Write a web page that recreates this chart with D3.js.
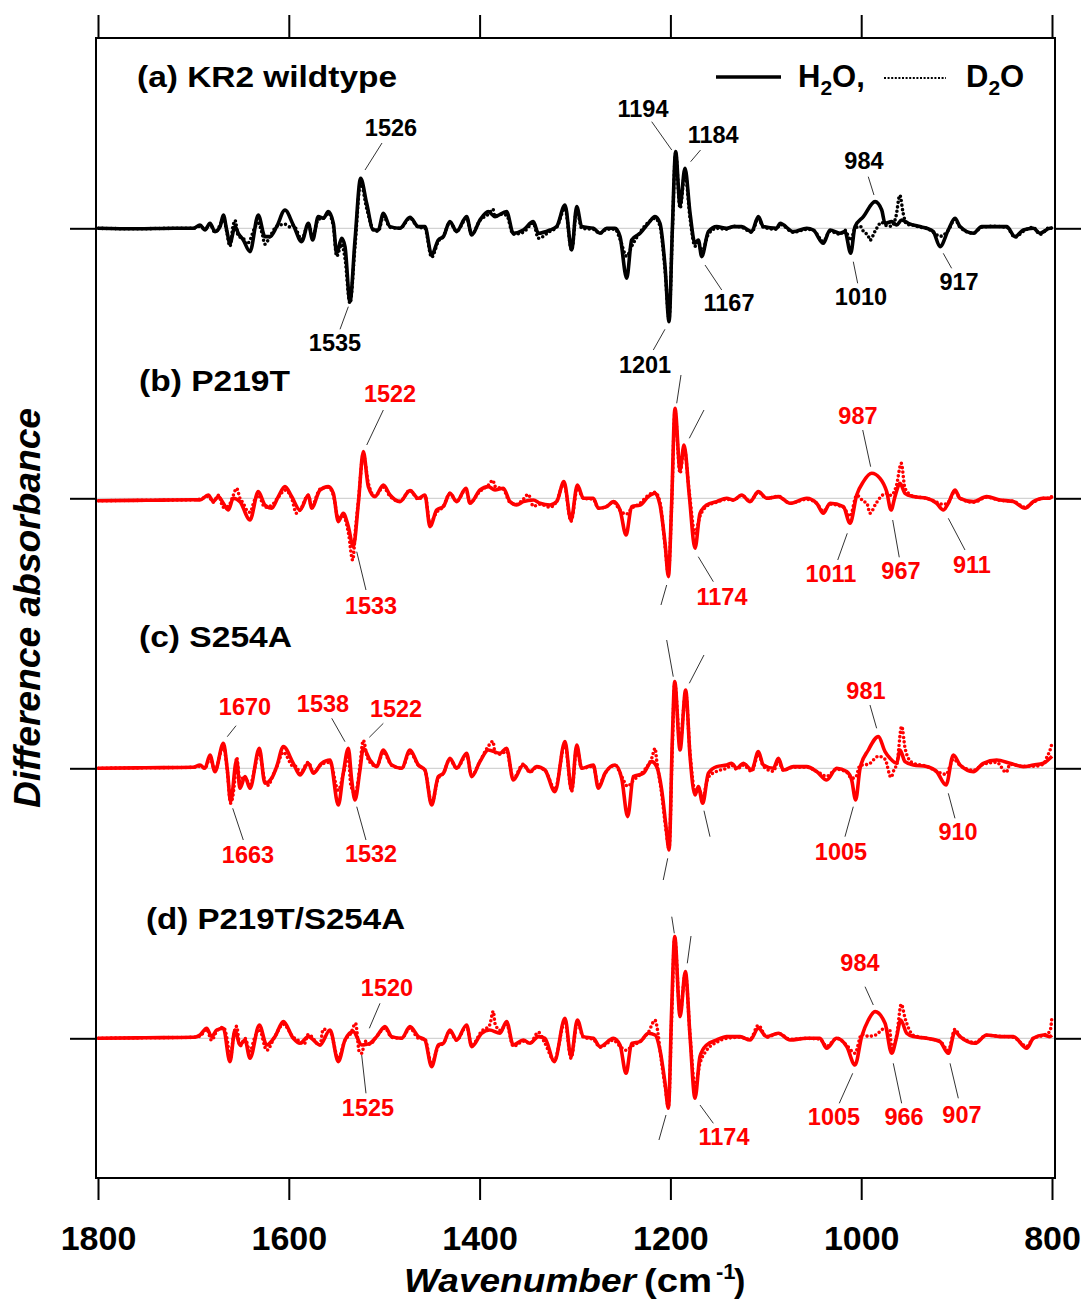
<!DOCTYPE html>
<html><head><meta charset="utf-8">
<script src="https://cdn.jsdelivr.net/npm/d3@7"></script>
<style>body{margin:0;background:#fff}svg{display:block}text{font-family:"Liberation Sans",Arial,sans-serif}</style>
</head><body><svg id="c" width="1085" height="1307"></svg>
<script>
// ---------- data ----------
const xTicks = [1800,1600,1400,1200,1000,800];
const panelNames = ["(a) KR2 wildtype","(b) P219T","(c) S254A","(d) P219T/S254A"];
const seriesNames = ["H2O","D2O"];

const aH2O = [[1800,0],[1760,-0.05],[1720,0],[1700,0],[1693.1,0.33],[1687.9,-0.17],[1682.6,0.5],[1677.4,-0.33],[1672.1,0.17],[1668.6,1.33],[1665.1,-0.17],[1661.7,-1.5],[1656.4,0.17],[1652.9,-0.5],[1647.7,-1.17],[1640.7,-2.33],[1632.0,1.33],[1625.0,-0.83],[1619.7,-0.83],[1612.7,0.17],[1604.0,1.83],[1595.3,0.33],[1586.5,-1.33],[1579.5,0.5],[1575.0,-1.17],[1569.1,1.17],[1563.8,1.0],[1558.6,1.67],[1553.3,0.5],[1549.8,-2.5],[1544.6,-1.0],[1541.1,-1.83],[1535.9,-7.33],[1530.6,-1.17],[1524.7,5.0],[1518.4,2.5],[1511.4,-0.17],[1506.2,-0.17],[1500.9,1.5],[1493.9,0.17],[1483.5,0],[1473.0,1.1],[1464.2,0.17],[1457.3,0.17],[1450.3,-2.67],[1443.3,-1.17],[1438.0,-0.83],[1431.1,0.67],[1424.1,-0.33],[1413.6,1.17],[1408.3,-0.67],[1399.6,0.83],[1390.9,1.67],[1383.9,1.17],[1371.7,1.67],[1364.7,-0.5],[1354.2,-0.17],[1343.7,0.67],[1338.4,-0.5],[1326.2,-0.17],[1319.2,0.17],[1310.5,2.33],[1303.5,-2.17],[1298.2,2.17],[1293.0,0.17],[1280.8,0],[1273.8,-0.5],[1266.8,0],[1258.0,0],[1252.8,-0.83],[1245.8,-5.0],[1240.6,-1.17],[1231.8,-0.5],[1223.1,0.5],[1216.1,1.17],[1210.9,0.5],[1205.6,-3.83],[1201.4,-9.33],[1198.0,-0.17],[1194.5,7.67],[1189.9,2.33],[1184.7,6.0],[1179.4,1.5],[1174.2,-1.5],[1170.7,-1.17],[1167.2,-2.83],[1160.2,-0.33],[1151.5,0.17],[1141.0,0],[1134.0,0.17],[1125.3,0.17],[1114.8,-0.33],[1107.8,1.17],[1102.6,0.17],[1088.6,0],[1085.1,0.5],[1071.1,-0.33],[1057.1,0],[1050.2,-0.17],[1039.7,-1.5],[1032.7,-0.17],[1022.2,-0.5],[1017.0,-0.33],[1011.0,-2.5],[1006.5,0.17],[997.7,1.17],[985.5,2.67],[978.5,1.83],[975.0,0.5],[968.1,0.67],[962.8,0.33],[957.6,0.83],[950.6,0.5],[938.4,0.17],[931.4,0],[924.4,-0.33],[917.4,-1.83],[908.7,-0.17],[901.7,1.0],[896.4,0.17],[882.4,-0.5],[873.7,0.17],[861.5,0.17],[847.5,0.17],[838.8,-0.83],[830.0,-0.17],[819.6,0],[812.6,-0.5],[802.1,0],[800,0]];
const aD2O = [[1800,0],[1760,-0.05],[1720,0],[1700,0],[1693.1,0.2],[1687.9,-0.1],[1682.6,0.4],[1677.4,-0.4],[1672.1,0.3],[1668.6,1.0],[1665.1,-0.3],[1661.7,-1.8],[1658.5,0.2],[1656.4,0.8],[1652.9,-0.8],[1647.7,-1.0],[1644,-1.6],[1640.7,-1.2],[1636,0.0],[1632.0,0.5],[1628,-0.5],[1625.0,-1.6],[1619.7,-0.8],[1612.7,0.2],[1604.0,0.4],[1598,0.1],[1595.3,0.3],[1586.5,-1.1],[1579.5,0.4],[1575.0,-0.8],[1569.1,0.9],[1563.8,1.0],[1558.6,1.5],[1553.3,0.2],[1549.8,-2.8],[1544.6,-1.6],[1541.1,-3.0],[1535.9,-7.5],[1530.6,-1.8],[1524.7,4.6],[1518.4,2.0],[1511.4,-0.1],[1506.2,-0.3],[1500.9,1.2],[1493.9,0.1],[1483.5,0.0],[1473.0,1.0],[1464.2,0.1],[1457.3,0.0],[1450.3,-2.9],[1443.3,-1.3],[1438.0,-0.8],[1431.1,0.6],[1424.1,-0.3],[1413.6,1.0],[1408.3,-0.6],[1399.6,0.8],[1390.9,1.4],[1386,1.9],[1383.9,1.2],[1378,1.4],[1371.7,1.3],[1364.7,-0.6],[1354.2,-0.4],[1343.7,0.5],[1338.4,-1.0],[1326.2,-0.3],[1319.2,0.1],[1310.5,2.0],[1303.5,-2.2],[1298.2,1.9],[1293.0,0.0],[1280.8,-0.1],[1273.8,-0.5],[1266.8,-0.1],[1258.0,-0.1],[1252.8,-1.1],[1245.8,-2.8],[1240.6,-1.8],[1231.8,-0.4],[1223.1,0.6],[1216.1,1.0],[1210.9,0.2],[1205.6,-4.2],[1201.4,-9.0],[1198.0,-0.5],[1194.5,7.5],[1189.9,2.0],[1184.7,5.6],[1179.4,1.0],[1174.2,-1.8],[1170.7,-1.3],[1167.2,-2.4],[1160.2,-0.6],[1151.5,0.0],[1141.0,-0.1],[1134.0,0.2],[1125.3,0.1],[1114.8,-0.4],[1107.8,1.0],[1102.6,0.1],[1088.6,-0.1],[1085.1,0.4],[1071.1,-0.4],[1057.1,-0.1],[1050.2,-0.2],[1039.7,-1.3],[1032.7,-0.3],[1022.2,-0.6],[1017.0,-0.2],[1011.0,-1.2],[1006.5,0.0],[1001,0.2],[997.7,-0.3],[992.5,-0.8],[990.8,-1.2],[985.5,-0.3],[978.5,0.6],[975.0,0.3],[968.1,0.2],[963.5,1.2],[959.5,3.3],[956,1.5],[952.3,0.4],[945.3,0.3],[938.4,0.1],[931.4,0.0],[924.4,-0.4],[917.4,-0.8],[908.7,-0.2],[901.7,0.9],[896.4,0.1],[882.4,-0.5],[873.7,0.1],[861.5,0.2],[847.5,0.1],[838.8,-0.9],[830.0,-0.3],[819.6,0.1],[812.6,-0.6],[802.1,0.1],[800,0]];

const bH2O = [[1800,-0.25],[1750,-0.2],[1700,-0.15],[1693.1,-0.17],[1684.4,0.33],[1679.1,-0.33],[1673.9,0.17],[1668.6,-0.5],[1663.4,-1.17],[1658.2,0],[1651.2,-0.33],[1640.7,-2.17],[1632.0,0.67],[1625.0,-0.67],[1618.0,-1.0],[1611.0,0.17],[1604.0,1.17],[1597.0,0.17],[1588.3,-1.17],[1579.5,0.33],[1576.1,-1.0],[1567.3,0.83],[1558.6,1.17],[1553.3,0.5],[1548.1,-2.33],[1542.9,-1.5],[1537.6,-2.83],[1532.4,-4.83],[1527.1,-0.5],[1521.9,4.67],[1516.6,1.17],[1509.7,0.17],[1500.9,1.33],[1493.9,0.33],[1483.5,-0.33],[1473.0,0.77],[1464.2,0],[1457.3,0.33],[1452.0,-2.83],[1445.0,-1.17],[1438.0,-0.83],[1431.1,0.5],[1424.1,-0.33],[1414.3,1.0],[1410.1,-0.5],[1399.6,0.83],[1390.9,1.17],[1383.9,0.83],[1375.1,1.0],[1368.2,-0.33],[1361.2,-0.67],[1354.2,-0.33],[1343.7,-0.17],[1336.7,-0.5],[1326.2,-0.67],[1319.2,-0.33],[1311.6,1.67],[1304.2,-2.17],[1297.5,1.33],[1291.2,0],[1280.8,0],[1275.5,-1.0],[1266.8,-0.83],[1259.8,-0.33],[1252.8,-1.17],[1246.5,-3.67],[1240.6,-0.83],[1231.8,-0.67],[1223.1,0.17],[1216.1,0.5],[1210.9,-0.67],[1205.6,-4.5],[1202.1,-7.83],[1198.7,-0.5],[1195.2,9.0],[1189.9,2.83],[1185.7,5.33],[1180.1,0.17],[1174.2,-5.0],[1169.0,-1.5],[1162.0,-0.67],[1151.5,-0.33],[1141.0,0],[1134.0,-0.17],[1125.3,0.33],[1116.5,-0.33],[1107.8,0.67],[1099.1,0],[1086.8,0.17],[1074.6,-0.5],[1057.1,0],[1046.7,-0.5],[1039.7,-1.5],[1032.7,-0.5],[1018.7,-0.83],[1011.7,-2.5],[1004.7,0.33],[997.7,1.67],[989.0,2.5],[980.3,2.0],[973.3,0.67],[968.7,-1.17],[964.6,0.17],[959.3,1.5],[954.1,0.5],[945.3,0.17],[931.4,0],[920.9,-0.5],[913.9,-1.17],[908.7,-0.5],[901.7,0.83],[896.4,0],[882.4,-0.33],[868.5,0.17],[854.5,-0.17],[840.5,-0.33],[828.3,-1.0],[819.6,-0.33],[809.1,0],[802.1,0],[800,0.2]];
const bD2O = [[1800,-0.25],[1750,-0.2],[1700,-0.15],[1693.1,-0.1],[1684.4,0.2],[1679.1,-0.4],[1673.9,0.3],[1668.6,-0.9],[1663.4,-0.8],[1658.2,0.3],[1654.7,1.0],[1651.2,0.0],[1647.7,-0.5],[1644,-1.2],[1640.7,-1.4],[1636,-0.2],[1632.0,0.3],[1625.0,-0.9],[1618.0,-0.7],[1611.0,0.1],[1604.0,0.8],[1597.0,0.0],[1592,-1.5],[1588.3,-1.2],[1579.5,0.3],[1576.1,-0.8],[1567.3,0.9],[1558.6,1.1],[1553.3,0.3],[1548.1,-2.0],[1542.9,-1.8],[1537.6,-3.4],[1533,-6.2],[1530,-3.0],[1527.1,-0.3],[1521.9,4.3],[1516.6,1.5],[1509.7,0.2],[1500.9,1.1],[1493.9,0.2],[1483.5,-0.3],[1473.0,0.8],[1464.2,-0.1],[1457.3,0.3],[1452.0,-2.5],[1445.0,-1.4],[1438.0,-0.8],[1431.1,0.5],[1424.1,-0.3],[1414.3,0.9],[1410.1,-0.4],[1399.6,0.7],[1390.9,1.3],[1386,1.8],[1383.9,1.2],[1375.1,0.9],[1368.2,-0.4],[1361.2,-0.6],[1354.2,-0.1],[1349,0.4],[1343.7,-0.8],[1336.7,-0.6],[1326.2,-0.9],[1319.2,-0.3],[1311.6,1.5],[1304.2,-2.3],[1297.5,1.0],[1291.2,0.0],[1280.8,-0.1],[1275.5,-1.0],[1266.8,-0.8],[1259.8,-0.4],[1252.8,-1.2],[1246.5,-1.6],[1240.6,-1.0],[1231.8,-0.5],[1223.1,0.3],[1216.1,0.6],[1210.9,-0.4],[1205.6,-4.8],[1202.1,-7.5],[1198.7,-0.8],[1195.2,8.6],[1189.9,2.5],[1185.7,5.0],[1180.1,0.5],[1174.2,-3.5],[1169.0,-1.8],[1162.0,-0.8],[1151.5,-0.4],[1141.0,-0.1],[1134.0,-0.2],[1125.3,0.3],[1116.5,-0.3],[1107.8,0.6],[1099.1,0.0],[1086.8,0.2],[1074.6,-0.5],[1057.1,-0.1],[1046.7,-0.5],[1039.7,-1.3],[1032.7,-0.6],[1018.7,-0.9],[1011.7,-1.8],[1004.7,0.3],[997.7,-0.3],[994,-0.5],[990.8,-1.5],[985,-0.6],[979,0.2],[973.3,0.5],[968.7,0.3],[963,1.3],[958,3.5],[954.1,1.0],[945.3,0.2],[931.4,0.0],[920.9,-0.4],[913.9,-0.6],[908.7,-0.4],[901.7,0.7],[896.4,0.0],[882.4,-0.4],[868.5,0.1],[854.5,-0.2],[840.5,-0.3],[828.3,-0.9],[819.6,-0.4],[809.1,0.0],[802.1,0.0],[800,0.2]];

const cH2O = [[1800,0],[1750,0.05],[1700,0.1],[1693.1,0.33],[1687.9,0],[1682.6,1.33],[1677.4,-0.33],[1668.6,2.5],[1664.4,-0.17],[1661.0,-3.33],[1654.7,0.83],[1651.2,-2.0],[1645.9,-0.83],[1640.7,-2.0],[1630.9,2.0],[1625.0,-1.5],[1618.0,-1.0],[1612.7,0.17],[1605.7,2.17],[1595.3,0.5],[1588.3,-0.67],[1579.5,0.5],[1574.3,-0.5],[1565.6,0.5],[1556.8,0.83],[1548.1,-3.67],[1542.9,-0.5],[1537.6,2.0],[1534.1,-1.17],[1530.6,-3.17],[1525.4,-0.17],[1521.9,2.0],[1514.9,0.83],[1507.9,0.17],[1500.9,1.83],[1492.2,0.33],[1481.7,0],[1473.0,1.83],[1464.2,0.33],[1457.3,-0.17],[1450.3,-3.67],[1443.3,-0.83],[1438.0,-0.5],[1431.1,1.0],[1424.1,0],[1413.6,1.5],[1408.3,-0.83],[1399.6,0.67],[1390.9,1.83],[1378.6,1.5],[1371.7,2.0],[1364.7,-1.17],[1354.2,0.33],[1347.2,-0.33],[1340.2,0.17],[1331.5,-0.17],[1321.0,-2.33],[1310.5,2.67],[1303.5,-2.17],[1298.2,2.33],[1293.0,0],[1280.8,0.33],[1275.5,-2.0],[1268.5,-0.5],[1258.0,0.33],[1251.1,-1.0],[1244.8,-4.83],[1238.8,-0.83],[1228.4,-0.5],[1219.6,0.67],[1214.4,0.17],[1209.1,-2.17],[1204.6,-5.83],[1201.4,-8.17],[1198.0,2.83],[1195.5,8.67],[1189.9,1.83],[1184.0,7.83],[1179.4,1.17],[1174.2,-2.67],[1170.7,-1.83],[1166.2,-3.5],[1160.2,-0.5],[1151.5,0.17],[1141.0,0.33],[1135.8,0.5],[1130.5,0],[1123.5,0.5],[1114.8,-0.17],[1107.8,1.67],[1102.6,0.33],[1092.1,0],[1086.8,1.0],[1081.6,-0.17],[1071.1,0.17],[1057.1,0.17],[1046.7,-0.33],[1036.2,-1.17],[1025.7,0],[1015.2,-0.33],[1010.0,-1.17],[1005.8,-3.17],[1001.2,0],[992.5,1.83],[982.0,3.17],[975.0,1.67],[969.8,1.0],[962.8,0.5],[959.3,1.83],[954.1,0.67],[945.3,0.33],[931.4,0.17],[920.9,-0.33],[911.1,-1.67],[903.4,1.33],[896.4,0.33],[882.4,-0.33],[872.0,0.5],[858.0,0.83],[844.0,0.5],[830.0,0.17],[819.6,0.33],[809.1,0.5],[802.1,1.0],[800,1.2]];
const cD2O = [[1800,0],[1750,0.05],[1700,0.1],[1693.1,0.2],[1687.9,0.0],[1682.6,1.0],[1677.4,-0.2],[1668.6,2.2],[1664.4,-0.3],[1661.0,-3.5],[1656,-0.5],[1654.7,1.1],[1651.2,-1.3],[1647,-0.8],[1640.7,-1.6],[1630.9,1.5],[1625.0,-1.3],[1621,-1.7],[1618.0,-1.0],[1612.7,0.1],[1605.7,1.6],[1595.3,0.2],[1592,0.2],[1588.3,-0.5],[1579.5,0.6],[1574.3,-0.4],[1565.6,0.4],[1556.8,0.6],[1548.1,-2.2],[1542.9,-0.6],[1537.6,1.3],[1535,-1.7],[1530.6,-2.5],[1527,-1.0],[1525.4,0.3],[1521.9,2.8],[1518,1.2],[1514.9,0.6],[1507.9,0.2],[1500.9,1.6],[1492.2,0.3],[1481.7,0.0],[1473.0,1.6],[1464.2,0.3],[1457.3,-0.2],[1450.3,-3.5],[1443.3,-1.0],[1438.0,-0.5],[1431.1,0.9],[1424.1,0.0],[1413.6,1.3],[1408.3,-0.7],[1399.6,0.7],[1390.9,2.2],[1386,2.7],[1383.9,1.6],[1378.6,1.4],[1371.7,1.7],[1364.7,-1.0],[1354.2,0.4],[1347.2,-0.4],[1340.2,0.1],[1331.5,-0.2],[1321.0,-2.1],[1310.5,2.4],[1303.5,-2.3],[1298.2,2.1],[1293.0,0.0],[1280.8,0.2],[1275.5,-1.8],[1268.5,-0.5],[1258.0,0.3],[1251.1,-0.8],[1244.8,-1.8],[1238.8,-1.2],[1228.4,-0.3],[1219.6,1.0],[1216,2.0],[1214.4,0.8],[1209.1,-2.6],[1204.6,-6.2],[1201.4,-8.0],[1198.0,2.0],[1195.5,8.5],[1189.9,2.5],[1184.0,7.5],[1179.4,1.5],[1174.2,-2.2],[1170.7,-2.0],[1166.2,-2.8],[1160.2,-0.9],[1151.5,-0.3],[1141.0,0.0],[1135.8,0.3],[1130.5,-0.1],[1123.5,0.3],[1114.8,-0.3],[1107.8,1.4],[1102.6,0.2],[1092.1,-0.3],[1086.8,0.7],[1081.6,-0.2],[1071.1,0.1],[1057.1,0.1],[1046.7,-0.3],[1036.2,-0.8],[1025.7,-0.1],[1015.2,-0.4],[1010.0,-1.0],[1005.8,-0.9],[1001.2,0.3],[992.5,0.4],[982.0,1.2],[975,0.9],[968.8,-0.9],[965,0.0],[962.8,0.3],[957.6,4.2],[954,2.0],[950.6,1.0],[945.3,0.5],[931.4,0.2],[920.9,-0.3],[911.1,-0.6],[903.4,0.9],[896.4,0.3],[882.4,-0.2],[872.0,0.4],[858.0,0.6],[848,-0.4],[844.0,0.4],[830.0,0.2],[819.6,0.2],[809.1,0.4],[805,1.2],[802.1,1.8],[800,2.5]];

const dH2O = [[1800,0],[1750,0.05],[1700,0.1],[1693.1,0.33],[1686.1,1.0],[1680.9,0.17],[1675.6,0.83],[1668.6,1.0],[1661.7,-2.33],[1656.4,0.83],[1651.2,-0.67],[1645.9,-0.17],[1640.7,-2.0],[1630.9,1.33],[1623.2,-0.67],[1614.5,0.17],[1605.7,1.67],[1595.3,0],[1588.3,-0.5],[1579.5,0.17],[1567.3,-0.67],[1556.8,0.83],[1548.1,-2.33],[1541.1,-0.17],[1532.4,0.67],[1523.6,-0.67],[1514.9,-0.5],[1507.9,0.17],[1499.2,1.17],[1492.2,0.17],[1481.7,0],[1473.0,1.17],[1464.2,0.17],[1457.3,-0.17],[1450.3,-2.83],[1443.3,-0.67],[1438.0,-0.5],[1431.1,0.83],[1424.1,-0.17],[1413.6,1.33],[1408.3,-0.83],[1397.9,0.5],[1389.6,0.83],[1378.6,0.5],[1371.7,1.67],[1364.7,-0.67],[1354.2,-0.17],[1347.2,-0.5],[1338.4,0.17],[1331.5,0],[1321.7,-2.33],[1310.5,2.0],[1304.2,-1.83],[1297.5,1.83],[1291.2,0.17],[1280.8,0],[1273.8,-0.83],[1259.8,0],[1252.8,-0.67],[1246.5,-3.5],[1240.6,-0.5],[1231.8,-0.33],[1223.1,0.5],[1216.1,0.33],[1210.9,-1.17],[1205.6,-4.5],[1202.1,-7.0],[1198.7,2.83],[1195.5,10.17],[1189.9,2.17],[1184.3,6.67],[1179.4,0.17],[1174.2,-6.0],[1169.0,-1.83],[1162.0,-0.67],[1151.5,-0.17],[1141.0,0.17],[1127.0,0.17],[1116.5,-0.17],[1107.8,1.0],[1099.1,0.17],[1086.8,0.5],[1074.6,-0.17],[1057.1,0],[1043.2,0],[1036.2,-1.0],[1025.7,0],[1015.2,-0.83],[1006.5,-2.67],[999.5,0.17],[992.5,1.83],[985.5,2.67],[975.0,1.5],[968.1,-1.5],[962.8,0.17],[958.6,1.83],[952.3,0.5],[945.3,0.17],[931.4,0],[917.4,-0.33],[908.7,-1.5],[901.7,0.67],[896.4,0.17],[880.7,-0.5],[868.5,0.33],[854.5,0.17],[840.5,0.17],[826.5,-1.0],[819.6,0],[809.1,0.33],[802.1,0.17],[800,0.3]];
const dD2O = [[1800,0],[1750,0.05],[1700,0.1],[1693.1,0.2],[1686.1,0.9],[1680.9,-0.2],[1675.6,0.7],[1668.6,1.1],[1664,-0.5],[1661.7,-2.2],[1658,0.2],[1654.7,1.2],[1651.2,-0.8],[1645.9,0.0],[1640.7,-1.3],[1636,0.0],[1630.9,0.9],[1623.2,-1.2],[1614.5,0.2],[1605.7,1.4],[1595.3,0.1],[1588.3,-0.3],[1584,-0.6],[1579.5,0.4],[1567.3,-0.7],[1564,0.9],[1556.8,0.7],[1548.1,-2.0],[1541.1,-0.2],[1535,0.5],[1530,1.5],[1526,-1.4],[1523.6,-1.5],[1520,-0.3],[1514.9,-0.6],[1507.9,0.2],[1499.2,1.0],[1492.2,0.1],[1481.7,0.0],[1473.0,1.0],[1464.2,0.0],[1457.3,-0.1],[1450.3,-2.6],[1443.3,-0.8],[1438.0,-0.5],[1431.1,0.7],[1424.1,-0.2],[1413.6,1.2],[1408.3,-0.7],[1397.9,0.7],[1389.6,1.3],[1385.6,2.7],[1383.9,1.5],[1378.6,0.8],[1371.7,1.4],[1364.7,-0.8],[1354.2,-0.3],[1347.2,-0.5],[1338.4,0.6],[1331.5,-0.5],[1321.7,-2.2],[1310.5,1.7],[1304.2,-2.0],[1297.5,1.6],[1291.2,0.1],[1280.8,-0.1],[1273.8,-0.9],[1259.8,-0.2],[1252.8,-0.8],[1246.5,-1.2],[1240.6,-0.8],[1231.8,-0.3],[1223.1,0.6],[1216.1,1.8],[1213,0.5],[1210.9,-1.2],[1205.6,-4.8],[1202.1,-6.8],[1198.7,2.0],[1195.5,10.0],[1189.9,2.5],[1184.3,6.5],[1179.4,0.3],[1174.2,-4.8],[1169.0,-2.5],[1162.0,-1.2],[1151.5,-0.4],[1141.0,0.0],[1127.0,0.1],[1116.5,-0.1],[1107.8,1.3],[1099.1,0.1],[1086.8,0.5],[1074.6,-0.1],[1057.1,0.0],[1043.2,-0.1],[1036.2,-0.8],[1025.7,0.0],[1015.2,-0.7],[1006.5,-1.5],[999.5,0.4],[992.5,0.2],[985.5,0.3],[975.0,1.0],[970,0.8],[968.1,-1.0],[962.8,0.3],[958,3.4],[954,2.0],[952.3,1.5],[945.3,0.3],[931.4,0.0],[917.4,-0.3],[908.7,-1.2],[901.7,0.9],[896.4,0.2],[880.7,-0.4],[868.5,0.3],[854.5,0.2],[840.5,0.1],[826.5,-0.8],[819.6,0.0],[809.1,0.3],[802.1,0.7],[800,2.2]];

// peak annotations: [label, label wavenumber, label value, leader start wn, value, leader end wn, value]
const aAnn = [["1526",1492.9,10.03,1502.3,8.53,1520.1,5.83],["1535",1551.6,-11.47,1537.6,-7.84,1546.3,-10.1],["1194",1228.7,11.93,1219.6,10.66,1198.6,7.83],["1184",1155.2,9.33,1168.4,7.83,1178.8,6.66],["984",997.1,6.73,992.6,5.16,986.6,3.33],["1167",1138.6,-7.47,1163.7,-3.67,1146.2,-6.17],["1010",1000.2,-6.87,1008.3,-3.34,1003.7,-5.5],["917",897.5,-5.37,914.0,-2.5,905.2,-4.0],["1201",1226.6,-13.67,1205.7,-10.1,1217.9,-12.17]];
const bAnn = [["1522",1493.9,10.43,1500.9,8.83,1518.3,5.33],["1533",1513.8,-10.77,1528.8,-5.34,1519.1,-9.17],["",0,0,1188.9,12.33,1193.4,9.5],["",0,0,1164.8,8.83,1180.2,6.0],["",0,0,1203.9,-8.67,1209.9,-10.67],["1174",1145.9,-9.87,1170.8,-5.84,1155.0,-8.34],["987",1003.4,8.23,998.4,6.83,990.1,3.16],["1011",1031.7,-7.57,1014.6,-3.5,1024.6,-6.17],["967",958.3,-7.27,967.0,-2.17,960.1,-5.9],["911",883.9,-6.67,908.7,-2.0,891.2,-5.17]];
const cAnn = [["1670",1645.9,6.13,1655.3,4.26,1664.5,3.16],["1663",1642.8,-8.67,1658.8,-4.0,1647.7,-7.17],["1538",1564.2,6.43,1555.0,5.0,1541.1,2.66],["1522",1487.6,5.93,1500.9,4.5,1515.6,3.1],["1532",1513.8,-8.57,1528.8,-3.84,1519.1,-7.17],["",0,0,1203.9,12.83,1197.0,9.16],["",0,0,1164.8,11.33,1180.2,8.5],["",0,0,1202.8,-9.0,1207.5,-11.17],["",0,0,1164.8,-4.24,1158.5,-6.84],["981",995.0,7.73,990.8,6.33,983.8,4.0],["1005",1021.2,-8.37,1008.3,-3.84,1017.0,-6.84],["910",898.5,-6.37,908.7,-2.5,901.7,-5.0]];
const dAnn = [["1520",1497.1,5.03,1504.4,3.5,1515.6,1.0],["1525",1517.0,-6.97,1523.6,-1.67,1519.1,-5.5],["",0,0,1198.6,12.16,1195.9,10.5],["",0,0,1178.4,10.23,1182.3,7.5],["",0,0,1204.6,-7.67,1212.0,-10.17],["1174",1143.8,-9.87,1169.0,-6.67,1155.0,-8.5],["984",1001.3,7.53,996.0,5.16,987.3,3.33],["1005",1028.5,-7.87,1008.9,-3.5,1023.0,-6.5],["966",955.1,-7.87,966.4,-2.5,957.6,-6.5],["907",894.4,-7.67,906.9,-2.5,898.2,-6.0]];

// ---------- drawing ----------
const svg = d3.select("#c");
const box = {l:96, r:1055, t:38, b:1178};
const x = d3.scaleLinear().domain([1800,800]).range([98,1052]);
const panels = [
  {name:panelNames[0], h:aH2O, d:aD2O, ann:aAnn, color:"#000000", zero:228.3, tx:137, ty:87, tl:260},
  {name:panelNames[1], h:bH2O, d:bD2O, ann:bAnn, color:"#ff0000", zero:498.3, tx:139, ty:391, tl:151},
  {name:panelNames[2], h:cH2O, d:cD2O, ann:cAnn, color:"#ff0000", zero:768.3, tx:139, ty:647, tl:153},
  {name:panelNames[3], h:dH2O, d:dD2O, ann:dAnn, color:"#ff0000", zero:1038.3, tx:146, ty:929, tl:259}
];

panels.forEach((p,i)=>{
  const y = d3.scaleLinear().domain([-13.5,13.5]).range([p.zero+135, p.zero-135]);
  const g = svg.append("g");
  g.append("line").attr("x1",box.l).attr("x2",box.r).attr("y1",y(0)).attr("y2",y(0))
    .attr("stroke","#c8c8c8").attr("stroke-width",1);
  const yl = d3.axisLeft(y).tickValues([0]).tickSize(26).tickFormat("");
  const yr = d3.axisRight(y).tickValues([0]).tickSize(26).tickFormat("");
  g.append("g").attr("transform",`translate(${box.l},0)`).call(yl)
    .call(s=>s.select(".domain").remove()).selectAll("line").attr("stroke","#000").attr("stroke-width",2);
  g.append("g").attr("transform",`translate(${box.r},0)`).call(yr)
    .call(s=>s.select(".domain").remove()).selectAll("line").attr("stroke","#000").attr("stroke-width",2);

  const line = d3.line().x(d=>x(d[0])).y(d=>y(d[1])).curve(d3.curveMonotoneX);
  g.append("path").datum(p.h).attr("d",line).attr("fill","none").attr("stroke",p.color)
    .attr("stroke-width",3.6).attr("stroke-linejoin","round");
  g.append("path").datum(p.d).attr("d",line).attr("fill","none").attr("stroke",p.color)
    .attr("stroke-width",3.6).attr("stroke-linecap","round").attr("stroke-dasharray","0 4.4");

  p.ann.forEach(a=>{
    g.append("line").attr("x1",x(a[3])).attr("y1",y(a[4])).attr("x2",x(a[5])).attr("y2",y(a[6]))
      .attr("stroke","#333").attr("stroke-width",1);
    if(a[0]){
      const col = (i===0) ? "#000" : "#ff0000";
      g.append("text").attr("x",x(a[1])).attr("y",y(a[2])).attr("dy","0.36em")
        .attr("text-anchor","middle").attr("font-size",23.5).attr("font-weight","bold")
        .attr("fill",col).text(a[0]);
    }
  });
  svg.append("text").attr("x",p.tx).attr("y",p.ty).attr("font-size",30).attr("font-weight","bold")
    .attr("fill","#000").attr("textLength",p.tl).attr("lengthAdjust","spacingAndGlyphs").text(p.name);
});

// frame
svg.append("rect").attr("x",box.l).attr("y",box.t).attr("width",box.r-box.l).attr("height",box.b-box.t)
  .attr("fill","none").attr("stroke","#000").attr("stroke-width",2);

// x axes
const xb = d3.axisBottom(x).tickValues(xTicks).tickSize(22).tickPadding(26).tickFormat(d3.format("d"));
const gb = svg.append("g").attr("transform",`translate(0,${box.b})`).call(xb);
gb.select(".domain").remove();
gb.selectAll("line").attr("stroke","#000").attr("stroke-width",2);
gb.selectAll("text").attr("font-size",34).attr("font-weight","bold").attr("fill","#000")
  .attr("font-family",'"Liberation Sans", Arial, sans-serif');
const xt = d3.axisTop(x).tickValues(xTicks).tickSize(23).tickFormat("");
const gt = svg.append("g").attr("transform",`translate(0,${box.t})`).call(xt);
gt.select(".domain").remove();
gt.selectAll("line").attr("stroke","#000").attr("stroke-width",2);

// x axis title, pieces laid out side by side
svg.append("text").attr("x",404).attr("y",1292).attr("font-size",34).attr("font-weight","bold")
  .attr("font-style","italic").attr("textLength",232).attr("lengthAdjust","spacingAndGlyphs").text("Wavenumber");
svg.append("text").attr("x",644).attr("y",1292).attr("font-size",34).attr("font-weight","bold")
  .attr("textLength",68).attr("lengthAdjust","spacingAndGlyphs").text("(cm");
svg.append("text").attr("x",716).attr("y",1279).attr("font-size",22).attr("font-weight","bold").text("-1");
svg.append("text").attr("x",734).attr("y",1292).attr("font-size",34).attr("font-weight","bold").text(")");

svg.append("text").attr("transform","translate(40,608) rotate(-90)").attr("text-anchor","middle")
  .attr("font-size",36).attr("font-weight","bold").attr("font-style","italic").attr("fill","#000")
  .attr("textLength",400).attr("lengthAdjust","spacingAndGlyphs").text("Difference absorbance");

// legend
const lg = svg.append("g");
lg.append("line").attr("x1",716).attr("x2",781).attr("y1",77).attr("y2",77).attr("stroke","#000").attr("stroke-width",3.5);
const t1 = lg.append("text").attr("x",798).attr("y",87).attr("font-size",31).attr("font-weight","bold");
t1.append("tspan").text("H");
t1.append("tspan").attr("font-size",21).attr("dy",8).text("2");
t1.append("tspan").attr("dy",-8).text("O,");
lg.append("line").attr("x1",884).attr("x2",946).attr("y1",78).attr("y2",78).attr("stroke","#000")
  .attr("stroke-width",2).attr("stroke-dasharray","2 1.6");
const t2 = lg.append("text").attr("x",966).attr("y",87).attr("font-size",31).attr("font-weight","bold");
t2.append("tspan").text("D");
t2.append("tspan").attr("font-size",21).attr("dy",8).text("2");
t2.append("tspan").attr("dy",-8).text("O");
</script></body></html>
